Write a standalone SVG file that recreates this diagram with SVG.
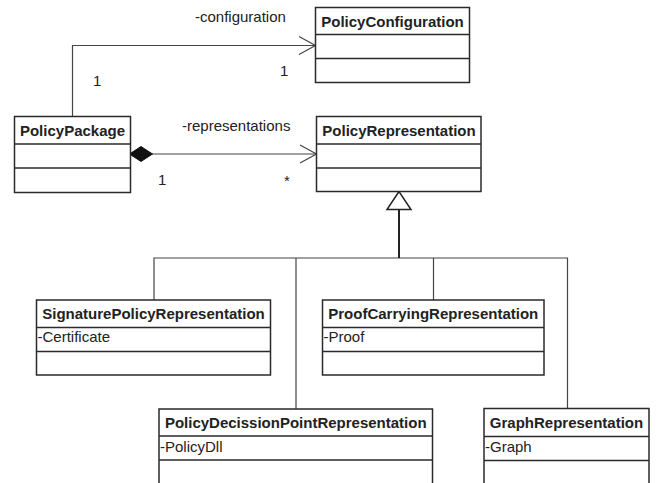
<svg xmlns="http://www.w3.org/2000/svg" width="656" height="483" viewBox="0 0 656 483">
<style>
.box{fill:#fff;stroke:#2a2a2a;stroke-width:1.5}
.div{stroke:#2a2a2a;stroke-width:1.5}
.title{font-family:"Liberation Sans",Arial,sans-serif;font-weight:bold;font-size:15px;fill:#222;text-anchor:middle}
.attr{font-family:"Liberation Sans",Arial,sans-serif;font-size:15px;fill:#222}
.lbl{font-family:"Liberation Sans",Arial,sans-serif;font-size:15px;fill:#222}
.conn{fill:none;stroke:#444;stroke-width:1.2}
</style>
<rect width="656" height="483" fill="#fff"/>
<g id="connectors">
  <polyline class="conn" points="72.5,116.5 72.5,45.5 315.5,45.5"/>
  <polyline class="conn" points="299,36.5 315.5,45.5 299,54.5"/>
  <line class="conn" x1="152" y1="154" x2="316.5" y2="154"/>
  <polygon points="129.5,154 141,146.5 152.5,154 141,161.5" fill="#111" stroke="#111" stroke-width="1"/>
  <polyline class="conn" points="300,145 316.5,154 300,163"/>
  <polyline class="conn" points="154,300 154,258 567.5,258 567.5,408.5"/>
  <line class="conn" x1="296" y1="258" x2="296" y2="409"/>
  <line class="conn" x1="433.5" y1="258" x2="433.5" y2="300"/>
  <line x1="399" y1="209.5" x2="399" y2="258" stroke="#222" stroke-width="2"/>
  <polygon points="399,191.5 387,209.5 411,209.5" fill="#fff" stroke="#222" stroke-width="1.5"/>
  <text class="lbl" x="195" y="22">-configuration</text>
  <text class="lbl" x="93" y="86">1</text>
  <text class="lbl" x="280" y="76">1</text>
  <text class="lbl" x="182" y="131">-representations</text>
  <text class="lbl" x="158" y="185">1</text>
  <text class="lbl" x="284" y="186">*</text>
</g>
<g id="PolicyConfiguration">
  <rect class="box" x="315.5" y="7.5" width="154" height="75"/>
  <line class="div" x1="315.5" y1="34.5" x2="469.5" y2="34.5"/>
  <line class="div" x1="315.5" y1="58.5" x2="469.5" y2="58.5"/>
  <text class="title" x="392.5" y="26.5">PolicyConfiguration</text>
</g>
<g id="PolicyPackage">
  <rect class="box" x="14.5" y="116.5" width="116" height="76"/>
  <line class="div" x1="14.5" y1="144" x2="130.5" y2="144"/>
  <line class="div" x1="14.5" y1="168" x2="130.5" y2="168"/>
  <text class="title" x="72.5" y="135.5">PolicyPackage</text>
</g>
<g id="PolicyRepresentation">
  <rect class="box" x="316.5" y="116.5" width="164.5" height="75"/>
  <line class="div" x1="316.5" y1="144" x2="481" y2="144"/>
  <line class="div" x1="316.5" y1="168" x2="481" y2="168"/>
  <text class="title" x="399" y="135.5">PolicyRepresentation</text>
</g>
<g id="SignaturePolicyRepresentation">
  <rect class="box" x="36.5" y="300" width="234" height="75"/>
  <line class="div" x1="36.5" y1="327.5" x2="270.5" y2="327.5"/>
  <line class="div" x1="36.5" y1="351.5" x2="270.5" y2="351.5"/>
  <text class="title" x="153.5" y="319">SignaturePolicyRepresentation</text>
  <text class="attr" x="37.5" y="342">-Certificate</text>
</g>
<g id="ProofCarryingRepresentation">
  <rect class="box" x="322.5" y="300" width="221.5" height="75"/>
  <line class="div" x1="322.5" y1="327.5" x2="544" y2="327.5"/>
  <line class="div" x1="322.5" y1="351.5" x2="544" y2="351.5"/>
  <text class="title" x="433.25" y="319">ProofCarryingRepresentation</text>
  <text class="attr" x="323.5" y="342">-Proof</text>
</g>
<g id="PolicyDecissionPointRepresentation">
  <rect class="box" x="159" y="409" width="273.5" height="100"/>
  <line class="div" x1="159" y1="436" x2="432.5" y2="436"/>
  <line class="div" x1="159" y1="460" x2="432.5" y2="460"/>
  <text class="title" x="295.75" y="428">PolicyDecissionPointRepresentation</text>
  <text class="attr" x="160" y="451.5">-PolicyDll</text>
</g>
<g id="GraphRepresentation">
  <rect class="box" x="484" y="408.5" width="165" height="100"/>
  <line class="div" x1="484" y1="436.5" x2="649" y2="436.5"/>
  <line class="div" x1="484" y1="460.5" x2="649" y2="460.5"/>
  <text class="title" x="566.5" y="427.5">GraphRepresentation</text>
  <text class="attr" x="485" y="452">-Graph</text>
</g>
</svg>
